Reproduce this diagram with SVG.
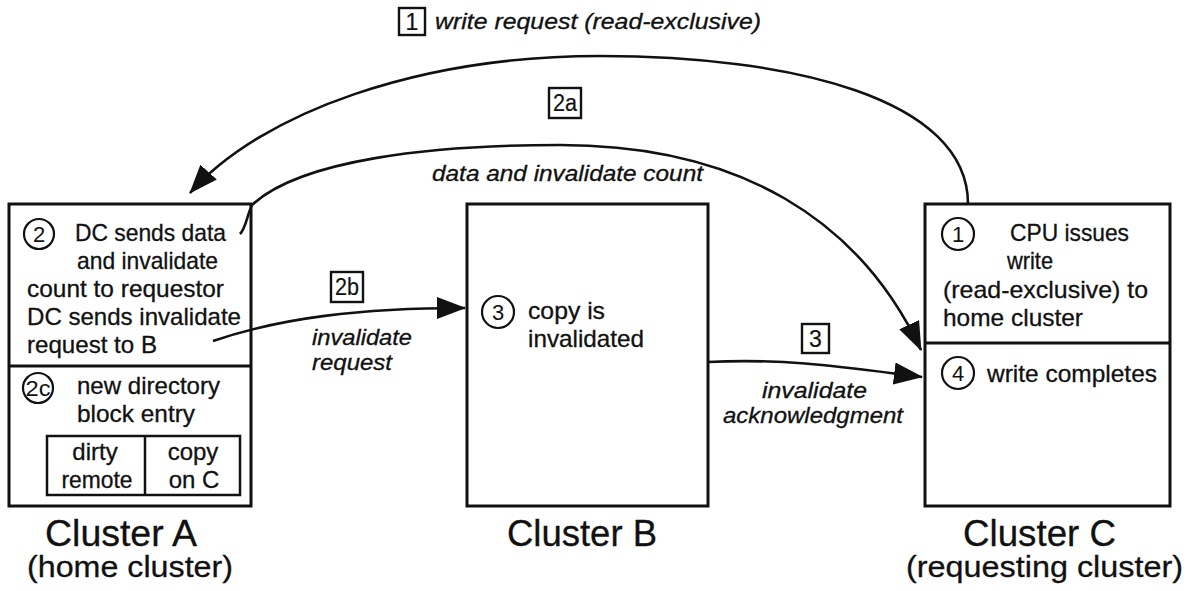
<svg xmlns="http://www.w3.org/2000/svg" width="1199" height="591" viewBox="0 0 1199 591">
<style>
.t{font-family:"Liberation Sans",Arial,Helvetica,sans-serif;font-size:24px;fill:#111;stroke:#111;stroke-width:0.3}
.i{font-family:"Liberation Sans",Arial,Helvetica,sans-serif;font-size:22px;font-style:italic;fill:#111;stroke:#111;stroke-width:0.3}
.h{font-family:"Liberation Sans",Arial,Helvetica,sans-serif;font-size:36px;fill:#111;stroke:#111;stroke-width:0.3}
.s{font-family:"Liberation Sans",Arial,Helvetica,sans-serif;font-size:30px;fill:#111;stroke:#111;stroke-width:0.3}
.c{font-family:"Liberation Sans",Arial,Helvetica,sans-serif;font-size:22px;fill:#111;text-anchor:middle}
.n{font-family:"Liberation Sans",Arial,Helvetica,sans-serif;font-size:23px;fill:#111;text-anchor:middle;stroke:#111;stroke-width:0.2}
.box{fill:none;stroke:#111;stroke-width:3}
.thin{fill:none;stroke:#111;stroke-width:2.5}
.circ{fill:none;stroke:#111;stroke-width:2.2}
.lbl{fill:#fff;stroke:#111;stroke-width:2.4}
.conn{fill:none;stroke:#111;stroke-width:2.6}
</style>
<defs>
<marker id="ah" markerUnits="userSpaceOnUse" markerWidth="30" markerHeight="26" refX="28" refY="13" orient="auto" viewBox="0 0 30 26">
<path d="M0,2 L29,13 L0,24 z" fill="#111"/>
</marker>
</defs>
<rect width="1199" height="591" fill="#fff"/>

<g id="clusterA">
<rect class="box" x="9" y="204" width="242" height="302"/>
<line class="box" x1="9" y1="366" x2="251" y2="366"/>
<circle class="circ" cx="39" cy="234" r="15"/>
<text class="c" x="39" y="242">2</text>
<text class="t" x="75" y="241" textLength="151" lengthAdjust="spacingAndGlyphs">DC sends data</text>
<text class="t" x="77" y="269" textLength="141" lengthAdjust="spacingAndGlyphs">and invalidate</text>
<text class="t" x="27" y="297" textLength="197" lengthAdjust="spacingAndGlyphs">count to requestor</text>
<text class="t" x="27" y="325" textLength="214" lengthAdjust="spacingAndGlyphs">DC sends invalidate</text>
<text class="t" x="27" y="353" textLength="130" lengthAdjust="spacingAndGlyphs">request to B</text>
<circle class="circ" cx="38" cy="388" r="15"/>
<text class="c" x="38" y="396" textLength="25" lengthAdjust="spacingAndGlyphs">2c</text>
<text class="t" x="77" y="394" textLength="143" lengthAdjust="spacingAndGlyphs">new directory</text>
<text class="t" x="77" y="422" textLength="118" lengthAdjust="spacingAndGlyphs">block entry</text>
<rect class="thin" x="47" y="436" width="193" height="59"/>
<line class="thin" x1="145" y1="436" x2="145" y2="495"/>
<text class="t" x="95" y="460" text-anchor="middle">dirty</text>
<text class="t" x="97" y="488" text-anchor="middle" textLength="71" lengthAdjust="spacingAndGlyphs">remote</text>
<text class="t" x="193" y="460" text-anchor="middle">copy</text>
<text class="t" x="194" y="488" text-anchor="middle">on C</text>
<text class="h" x="45" y="546" textLength="152" lengthAdjust="spacingAndGlyphs">Cluster A</text>
<text class="s" x="27" y="577" textLength="206" lengthAdjust="spacingAndGlyphs">(home cluster)</text>
</g>

<g id="clusterB">
<rect class="box" x="467" y="204" width="241" height="302"/>
<circle class="circ" cx="498" cy="312" r="16"/>
<text class="c" x="498" y="320">3</text>
<text class="t" x="528" y="319" textLength="77" lengthAdjust="spacingAndGlyphs">copy is</text>
<text class="t" x="528" y="347" textLength="116" lengthAdjust="spacingAndGlyphs">invalidated</text>
<text class="h" x="507" y="546" textLength="150" lengthAdjust="spacingAndGlyphs">Cluster B</text>
</g>

<g id="clusterC">
<rect class="box" x="925" y="204" width="245" height="302"/>
<line class="box" x1="925" y1="343" x2="1170" y2="343"/>
<circle class="circ" cx="958" cy="234" r="16"/>
<text class="c" x="958" y="242">1</text>
<text class="t" x="1010" y="241" textLength="119" lengthAdjust="spacingAndGlyphs">CPU issues</text>
<text class="t" x="1007" y="269" textLength="46" lengthAdjust="spacingAndGlyphs">write</text>
<text class="t" x="943" y="298" textLength="205" lengthAdjust="spacingAndGlyphs">(read-exclusive) to</text>
<text class="t" x="943" y="326" textLength="140" lengthAdjust="spacingAndGlyphs">home cluster</text>
<circle class="circ" cx="958" cy="373" r="16"/>
<text class="c" x="958" y="381">4</text>
<text class="t" x="987" y="382" textLength="170" lengthAdjust="spacingAndGlyphs">write completes</text>
<text class="h" x="963" y="546" textLength="153" lengthAdjust="spacingAndGlyphs">Cluster C</text>
<text class="s" x="906" y="577" textLength="277" lengthAdjust="spacingAndGlyphs">(requesting cluster)</text>
</g>

<g id="connectors">
<path class="conn" d="M968 204 C968 98 790 56 600 56 C420 56 262 112 190 193" marker-end="url(#ah)"/>
<path class="conn" d="M240 234 C246 228 247 215 252 205 C300 160 430 145 560 145 C740 145 860 220 921 350" marker-end="url(#ah)"/>
<path class="conn" d="M213 341 C280 318 360 308 465 308" marker-end="url(#ah)"/>
<path class="conn" d="M708 362 C790 358 850 368 922 377" marker-end="url(#ah)"/>
</g>

<g id="labels">
<rect class="lbl" x="399" y="8" width="26" height="27"/>
<text class="n" x="412" y="30">1</text>
<text class="i" x="435" y="29" textLength="326" lengthAdjust="spacingAndGlyphs">write request (read-exclusive)</text>
<rect class="lbl" x="549" y="88" width="32" height="30"/>
<text class="n" x="565" y="111" textLength="24" lengthAdjust="spacingAndGlyphs">2a</text>
<text class="i" x="432" y="181" textLength="271" lengthAdjust="spacingAndGlyphs">data and invalidate count</text>
<rect class="lbl" x="331" y="272" width="32" height="30"/>
<text class="n" x="347" y="295" textLength="24" lengthAdjust="spacingAndGlyphs">2b</text>
<text class="i" x="312" y="345" textLength="100" lengthAdjust="spacingAndGlyphs">invalidate</text>
<text class="i" x="312" y="370" textLength="80" lengthAdjust="spacingAndGlyphs">request</text>
<rect class="lbl" x="802" y="324" width="27" height="29"/>
<text class="n" x="815.5" y="347">3</text>
<text class="i" x="762" y="398" textLength="105" lengthAdjust="spacingAndGlyphs">invalidate</text>
<text class="i" x="723" y="423" textLength="180" lengthAdjust="spacingAndGlyphs">acknowledgment</text>
</g>
</svg>
